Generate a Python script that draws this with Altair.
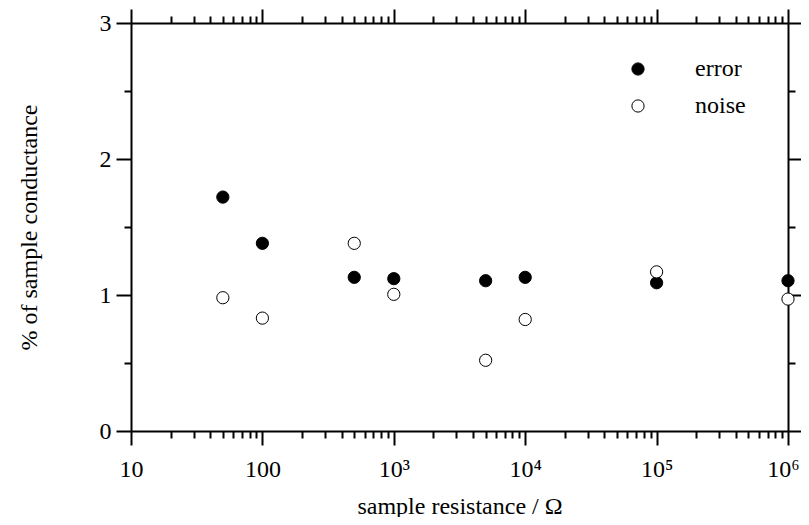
import altair as alt
import pandas as pd

# ---- data ----
resistance = [50, 100, 500, 1000, 5000, 10000, 100000, 1000000]
error_pct = [1.72, 1.38, 1.13, 1.12, 1.105, 1.13, 1.09, 1.105]
noise_pct = [0.98, 0.83, 1.38, 1.005, 0.52, 0.82, 1.17, 0.97]
series_names = ["error", "noise"]

x_major = [10, 100, 1000, 10000, 100000, 1000000]
x_major_labels = ["10", "100", "10³", "10⁴", "10⁵", "10⁶"]
x_minor = [m * 10 ** d for d in range(1, 6) for m in range(2, 10)]
y_major = [0, 1, 2, 3]
y_minor = [0.5, 1.5, 2.5]

df = pd.DataFrame({
    "R": resistance + resistance,
    "pct": error_pct + noise_pct,
    "series": [series_names[0]] * len(resistance) + [series_names[1]] * len(resistance),
})

label_expr = ""
for v, lab in zip(x_major, x_major_labels):
    label_expr += f"datum.value == {v} ? '{lab}' : "
label_expr += "''"

FONT = "Liberation Serif"
FS = 24


def xs():
    return alt.Scale(type="log", domain=[10, 1000000], nice=False)


def ys():
    return alt.Scale(domain=[0, 3], nice=False)


common = dict(grid=False, tickColor="black", domainColor="black", tickWidth=2,
              domainWidth=2, labelColor="black", titleColor="black")

base = alt.Chart(df)

# layer 1: visible points, bottom major x axis, left major y axis
points = base.mark_point(filled=True, stroke="black", strokeWidth=1, size=150, opacity=1).encode(
    x=alt.X("R:Q", scale=xs(), axis=alt.Axis(
        orient="bottom", values=x_major, tickSize=14, labelExpr=label_expr,
        labelFontSize=FS, labelFont=FONT, labelPadding=12, labelFlush=False,
        labelOverlap=False,
        labelOffset={"condition": {"test": f"datum.value == {x_major[-1]}", "value": -5}, "value": 0},
        title="sample resistance / Ω", titleFontSize=FS,
        titleFont=FONT, titleFontWeight="normal", titleY=82,
        titleBaseline="alphabetic", **common)),
    y=alt.Y("pct:Q", scale=ys(), axis=alt.Axis(
        orient="left", values=y_major, tickSize=15, labelFontSize=FS,
        labelFont=FONT, labelPadding=5, labelOverlap=False,
        title="% of sample conductance", titleFontSize=FS, titleFont=FONT,
        titleFontWeight="normal", titleX=-90, titleY=204, **common)),
    fill=alt.Fill("series:N", scale=alt.Scale(domain=series_names, range=["black", "white"]),
                  legend=alt.Legend(orient="none", legendX=495, legendY=34, title=None,
                                    labelFontSize=FS, labelFont=FONT, labelColor="black",
                                    labelOffset=45, rowPadding=13, symbolType="circle",
                                    symbolSize=150, symbolStrokeColor="black",
                                    symbolStrokeWidth=1, padding=0)),
)

# layer 2: minor ticks bottom / left
minor_bl = base.mark_point(opacity=0).encode(
    x=alt.X("R:Q", scale=xs(), axis=alt.Axis(
        orient="bottom", values=x_minor, tickSize=7, labels=False, domain=False,
        title=None, **common)),
    y=alt.Y("pct:Q", scale=ys(), axis=alt.Axis(
        orient="left", values=y_minor, tickSize=7, labels=False, domain=False,
        title=None, **common)),
)

# layer 3: major ticks top / right
major_tr = base.mark_point(opacity=0).encode(
    x=alt.X("R:Q", scale=xs(), axis=alt.Axis(
        orient="top", values=x_major, tickSize=14, labels=False, title=None, **common)),
    y=alt.Y("pct:Q", scale=ys(), axis=alt.Axis(
        orient="right", values=y_major, tickSize=14, labels=False, title=None, **common)),
)

# layer 4: minor ticks top / right
minor_tr = base.mark_point(opacity=0).encode(
    x=alt.X("R:Q", scale=xs(), axis=alt.Axis(
        orient="top", values=x_minor, tickSize=7, labels=False, domain=False,
        title=None, **common)),
    y=alt.Y("pct:Q", scale=ys(), axis=alt.Axis(
        orient="right", values=y_minor, tickSize=7, labels=False, domain=False,
        title=None, **common)),
)

chart = alt.layer(points, minor_bl, major_tr, minor_tr).resolve_axis(
    x="independent", y="independent"
).properties(
    width=657, height=408,
    autosize=alt.AutoSizeParams(type="none"),
    padding={"left": 123, "top": 15, "right": 13, "bottom": 86},
).configure(font=FONT).configure_view(stroke=None)

chart.save("out.html", embed_options={"renderer": "svg", "actions": False})
